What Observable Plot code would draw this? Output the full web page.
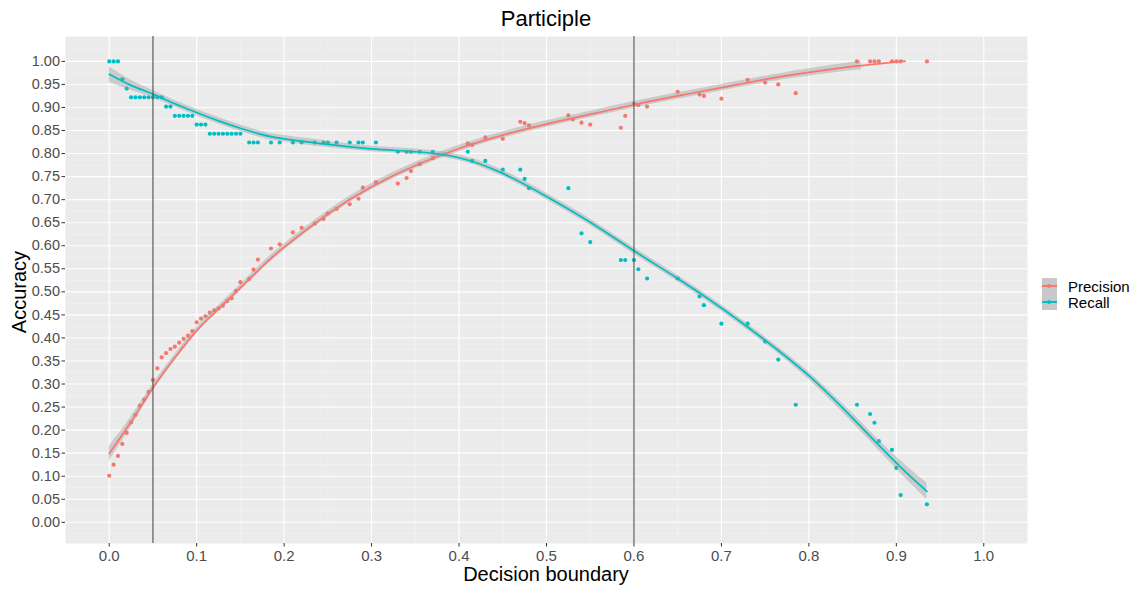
<!DOCTYPE html>
<html><head><meta charset="utf-8">
<script src="https://cdn.jsdelivr.net/npm/d3@7"></script>
<script src="https://cdn.jsdelivr.net/npm/@observablehq/plot@0.6"></script>
<style>
body{margin:0;background:#fff;font-family:"Liberation Sans",Arial,sans-serif;}
#wrap{position:relative;width:1140px;height:590px;overflow:hidden;}
#title{position:absolute;left:0;width:1092px;top:6px;text-align:center;font-size:22px;color:#000;line-height:26px;}
#xlab{position:absolute;left:0;width:1092px;top:562px;text-align:center;font-size:20px;color:#000;line-height:24px;}
#ylab{position:absolute;left:19px;top:292px;transform:translate(-50%,-50%) rotate(-90deg);font-size:20px;color:#000;white-space:nowrap;line-height:24px;}
#legend{position:absolute;left:1042px;top:278px;}
.key{display:flex;align-items:center;height:16px;}
.sw{position:relative;width:15px;height:16px;background:#c8c8c8;}
.sw .ln{position:absolute;left:0;right:0;top:7px;height:2px;}
.sw .pt{position:absolute;left:5px;top:6px;width:4px;height:4px;border-radius:50%;}
.key span{margin-left:11px;font-size:15px;color:#000;}
svg{position:absolute;left:0;top:0;}
</style></head>
<body>
<div id="wrap">
<div id="title">Participle</div>
<div id="xlab">Decision boundary</div>
<div id="ylab">Accuracy</div>
<div id="legend"></div>
</div>
<script>
const boundary = [0,0.005,0.01,0.015,0.02,0.025,0.03,0.035,0.04,0.045,0.05,0.055,0.06,0.065,0.07,0.075,0.08,0.085,0.09,0.095,0.10,0.105,0.11,0.115,0.12,0.125,0.13,0.135,0.14,0.145,0.15,0.16,0.165,0.17,0.185,0.195,0.21,0.22,0.235,0.245,0.25,0.26,0.275,0.285,0.29,0.305,0.33,0.34,0.345,0.355,0.37,0.41,0.415,0.43,0.45,0.47,0.475,0.48,0.525,0.53,0.54,0.55,0.585,0.59,0.60,0.605,0.615,0.65,0.675,0.68,0.70,0.73,0.75,0.765,0.785,0.855,0.87,0.875,0.88,0.895,0.90,0.905,0.935];
const precision = [0.101,0.125,0.144,0.170,0.194,0.217,0.233,0.253,0.266,0.283,0.309,0.334,0.358,0.367,0.376,0.381,0.390,0.398,0.405,0.415,0.434,0.442,0.447,0.455,0.460,0.464,0.470,0.480,0.486,0.502,0.521,0.528,0.548,0.570,0.594,0.603,0.629,0.639,0.648,0.658,0.670,0.680,0.690,0.702,0.726,0.738,0.735,0.747,0.762,0.777,0.790,0.822,0.819,0.835,0.832,0.869,0.866,0.861,0.883,0.874,0.867,0.863,0.856,0.882,0.908,0.905,0.902,0.934,0.928,0.925,0.919,0.960,0.954,0.950,0.931,1.0,1.0,1.0,1.0,1.0,1.0,1.0,1.0];
const recall = [1.0,1.0,1.0,0.961,0.941,0.922,0.922,0.922,0.922,0.922,0.922,0.922,0.922,0.902,0.902,0.882,0.882,0.882,0.882,0.882,0.863,0.863,0.863,0.843,0.843,0.843,0.843,0.843,0.843,0.843,0.843,0.824,0.824,0.824,0.824,0.824,0.824,0.824,0.824,0.824,0.824,0.824,0.824,0.824,0.824,0.824,0.804,0.804,0.804,0.804,0.804,0.804,0.784,0.784,0.765,0.765,0.745,0.725,0.725,null,0.627,0.608,0.569,0.569,0.569,0.549,0.529,0.529,0.490,0.471,0.431,0.431,0.392,0.353,0.255,0.255,0.235,0.216,0.176,0.157,0.118,0.059,0.039];

// loess fits
const precSmoothX = [0,0.025,0.05,0.075,0.1,0.125,0.15,0.175,0.2,0.25,0.3,0.35,0.4,0.45,0.5,0.55,0.6,0.65,0.7,0.75,0.8,0.85,0.86,0.9,0.91];
const precFit  = [0.149,0.218,0.292,0.357,0.416,0.463,0.509,0.555,0.597,0.669,0.728,0.774,0.811,0.840,0.864,0.885,0.906,0.925,0.943,0.961,0.976,0.989,0.991,0.999,1.0];
const precLow  = [0.133,0.207,0.284,0.350,0.409,0.456,0.502,0.548,0.590,0.662,0.721,0.767,0.804,0.833,0.857,0.878,0.899,0.918,0.936,0.954,0.968,0.980,0.982,null,null];
const precHigh = [0.165,0.229,0.300,0.364,0.423,0.470,0.516,0.562,0.604,0.676,0.735,0.781,0.818,0.847,0.871,0.892,0.913,0.932,0.950,0.968,0.984,0.998,1.000,null,null];

const recSmoothX = [0,0.025,0.05,0.075,0.1,0.125,0.15,0.175,0.2,0.25,0.3,0.35,0.4,0.45,0.5,0.55,0.6,0.65,0.7,0.75,0.8,0.85,0.9,0.935];
const recFit  = [0.972,0.948,0.929,0.908,0.889,0.871,0.855,0.841,0.832,0.820,0.810,0.804,0.791,0.757,0.707,0.651,0.589,0.529,0.465,0.395,0.318,0.226,0.129,0.067];
const recLow  = [0.955,0.937,0.921,0.901,0.882,0.864,0.848,0.834,0.825,0.813,0.804,0.798,0.785,0.750,0.700,0.644,0.582,0.522,0.458,0.388,0.310,0.216,0.116,0.049];
const recHigh = [0.989,0.959,0.937,0.915,0.896,0.878,0.862,0.848,0.839,0.827,0.816,0.810,0.797,0.764,0.714,0.658,0.596,0.536,0.472,0.402,0.326,0.236,0.142,0.085];

const xTicks = [0,0.1,0.2,0.3,0.4,0.5,0.6,0.7,0.8,0.9,1.0];
const xMinor = [-0.05,0.05,0.15,0.25,0.35,0.45,0.55,0.65,0.75,0.85,0.95,1.05];
const yTicks = [0,0.05,0.1,0.15,0.2,0.25,0.3,0.35,0.4,0.45,0.5,0.55,0.6,0.65,0.7,0.75,0.8,0.85,0.9,0.95,1.0];
const yMinor = [-0.025,0.025,0.075,0.125,0.175,0.225,0.275,0.325,0.375,0.425,0.475,0.525,0.575,0.625,0.675,0.725,0.775,0.825,0.875,0.925,0.975,1.025];
const boundaryLines = [0.05, 0.6];
const seriesNames = ["Precision","Recall"];
const seriesColors = ["#F8766D","#00BFC4"];

const points = [];
boundary.forEach((b,i)=>{
  if (precision[i] != null) points.push({x:b, y:precision[i], s:"Precision"});
  if (recall[i] != null) points.push({x:b, y:recall[i], s:"Recall"});
});
const precSmooth = precSmoothX.map((x,i)=>({x, y:precFit[i], lo:precLow[i], hi:precHigh[i]}));
const recSmooth = recSmoothX.map((x,i)=>({x, y:recFit[i], lo:recLow[i], hi:recHigh[i]}));

const chart = Plot.plot({
  width:1140, height:590,
  marginLeft:65, marginRight:113, marginTop:36, marginBottom:47,
  x:{domain:[-0.05,1.05], label:null},
  y:{domain:[-0.046,1.054], label:null},
  color:{domain:seriesNames, range:seriesColors},
  style:{fontFamily:"Liberation Sans, Arial, sans-serif", background:"transparent"},
  marks:[
    Plot.frame({fill:"#ebebeb", stroke:null}),
    Plot.ruleX(xMinor, {stroke:"#f5f5f5", strokeWidth:0.6}),
    Plot.ruleY(yMinor, {stroke:"#f5f5f5", strokeWidth:0.6}),
    Plot.ruleX(xTicks, {stroke:"#ffffff", strokeWidth:1.1}),
    Plot.ruleY(yTicks, {stroke:"#ffffff", strokeWidth:1.1}),
    Plot.dot(points, {x:"x", y:"y", fill:"s", r:2.1, stroke:null}),
    Plot.areaY(precSmooth.filter(d=>d.lo!=null), {x:"x", y1:"lo", y2:"hi", fill:"#999999", fillOpacity:0.4, curve:"natural"}),
    Plot.areaY(recSmooth, {x:"x", y1:"lo", y2:"hi", fill:"#999999", fillOpacity:0.4, curve:"natural"}),
    Plot.line(precSmooth, {x:"x", y:"y", stroke:seriesColors[0], strokeWidth:1.7, curve:"natural"}),
    Plot.line(recSmooth, {x:"x", y:"y", stroke:seriesColors[1], strokeWidth:1.7, curve:"natural"}),
    Plot.ruleX(boundaryLines, {stroke:"#4d4d4d", strokeWidth:1.1}),
    Plot.axisX(xTicks, {tickFormat:d3.format(".1f"), tickSize:3.5, tickPadding:3, fontSize:15, stroke:"#333333", fill:"#4d4d4d", label:null}),
    Plot.axisY(yTicks, {tickFormat:d3.format(".2f"), tickSize:3.5, tickPadding:2, fontSize:14.5, stroke:"#333333", fill:"#4d4d4d", label:null})
  ]
});
document.getElementById("wrap").appendChild(chart);

const legend = document.getElementById("legend");
seriesNames.forEach((name,i)=>{
  const row = document.createElement("div");
  row.className = "key";
  row.innerHTML = `<div class="sw"><div class="ln" style="background:${seriesColors[i]}"></div><div class="pt" style="background:${seriesColors[i]}"></div></div><span>${name}</span>`;
  legend.appendChild(row);
});
</script>
</body></html>
